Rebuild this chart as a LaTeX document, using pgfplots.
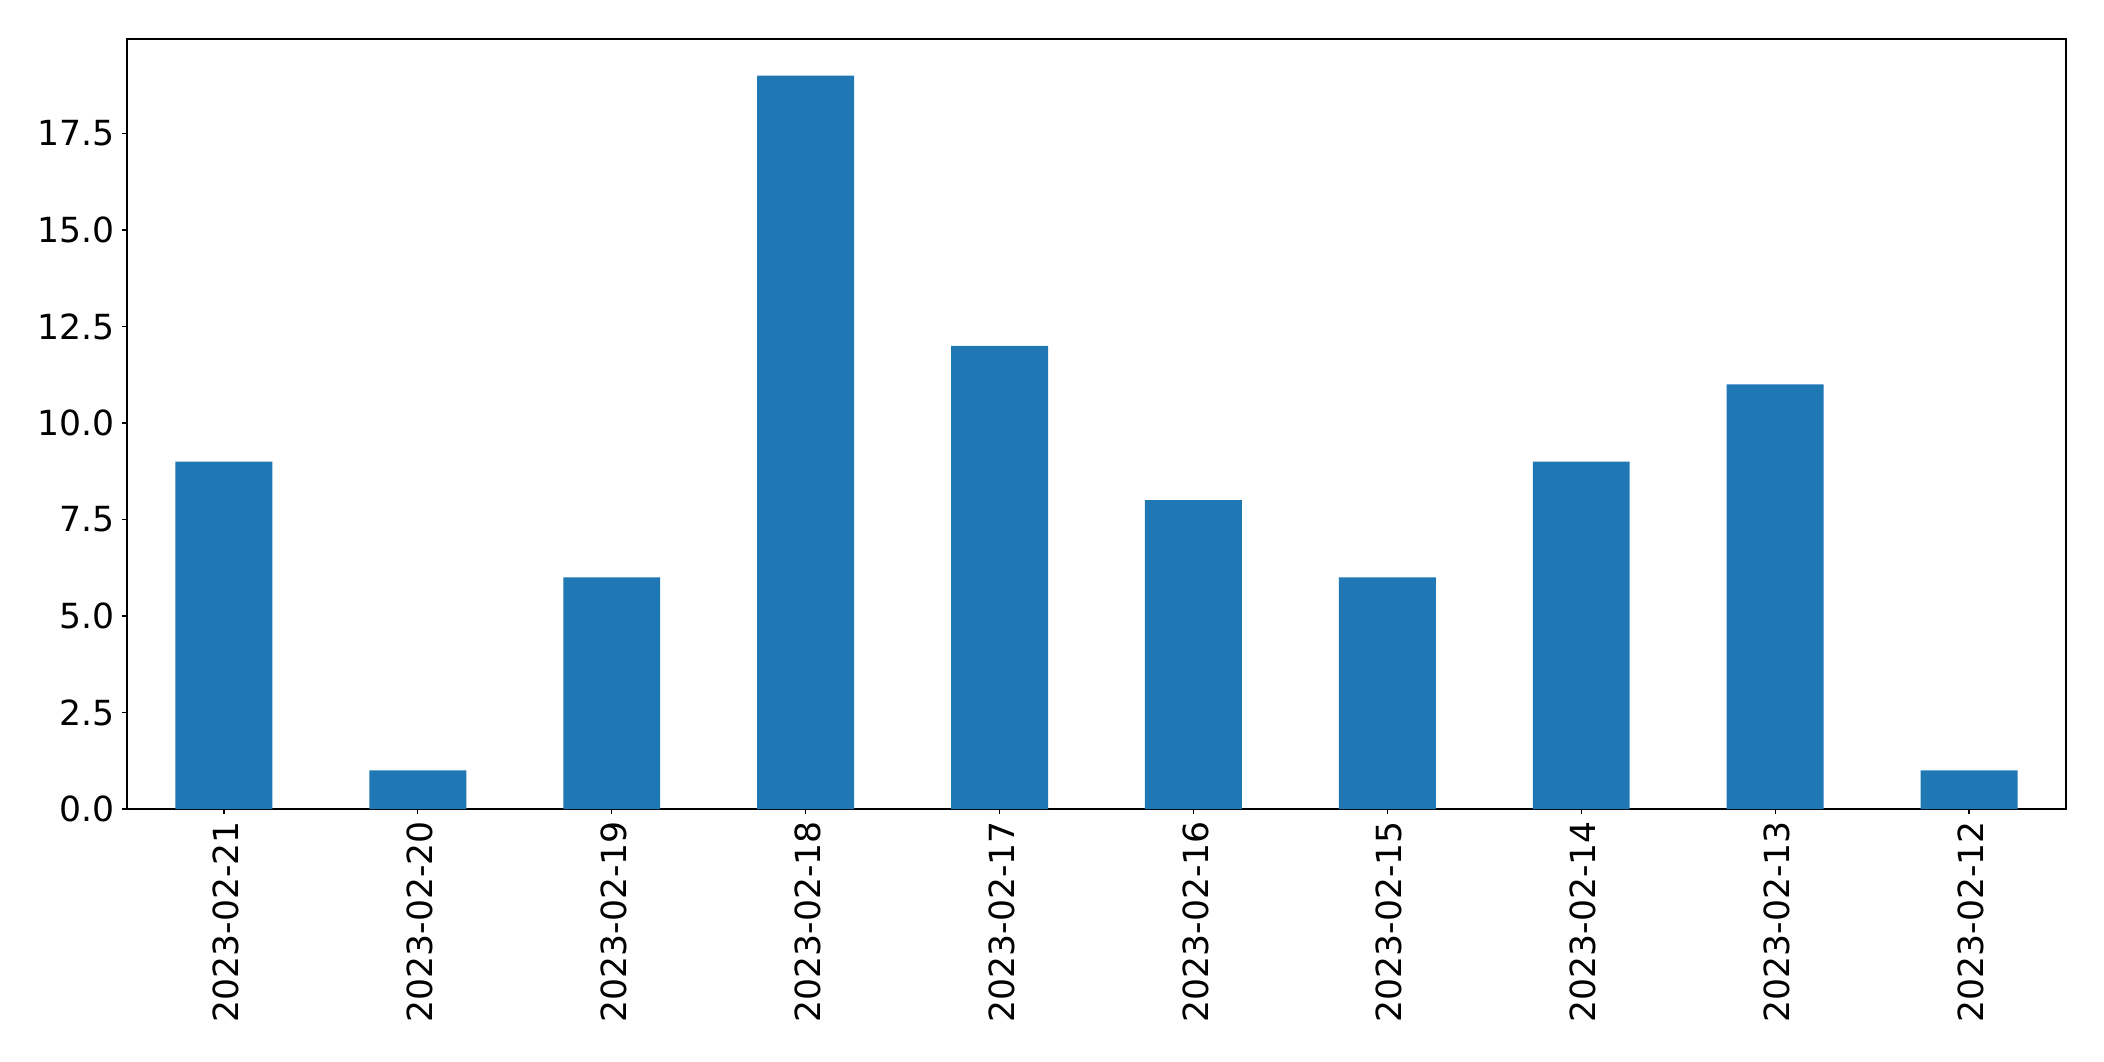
\documentclass[border=0pt]{standalone}
\usepackage{pgfplots}
\pgfplotsset{compat=1.18}
\usepackage{fontspec}
\setmainfont{DejaVu Sans}
\definecolor{mplblue}{HTML}{1F77B4}
\begin{document}
\begin{tikzpicture}
\path[use as bounding box] (-63.5pt,-126pt) rectangle (988.5pt,404.5pt);
\begin{axis}[
    at={(0pt,0pt)}, anchor=south west,
    width=969.5pt, height=385pt, scale only axis,
    xmin=-0.5, xmax=9.5, ymin=0, ymax=19.95,
    xtick={0,...,9},
    xticklabels={2023-02-21,2023-02-20,2023-02-19,2023-02-18,2023-02-17,2023-02-16,2023-02-15,2023-02-14,2023-02-13,2023-02-12},
    ytick={0,2.5,5,7.5,10,12.5,15,17.5},
    yticklabel style={/pgf/number format/.cd, fixed, fixed zerofill, precision=1, assume math mode=true},
    xticklabel style={rotate=90, anchor=east, yshift=-1pt},
    tick label style={font=\fontsize{17.3}{21}\selectfont},
    tick align=outside, major tick length=2.5pt,
    xtick pos=bottom, ytick pos=left,
    axis line style={line width=0.6pt}, tick style={line width=0.6pt, black},
    ]
\addplot[ybar, bar width=0.5, fill=mplblue, draw=none] coordinates {
    (0,9) (1,1) (2,6) (3,19) (4,12) (5,8) (6,6) (7,9) (8,11) (9,1)
};
\end{axis}
\end{tikzpicture}
\end{document}
